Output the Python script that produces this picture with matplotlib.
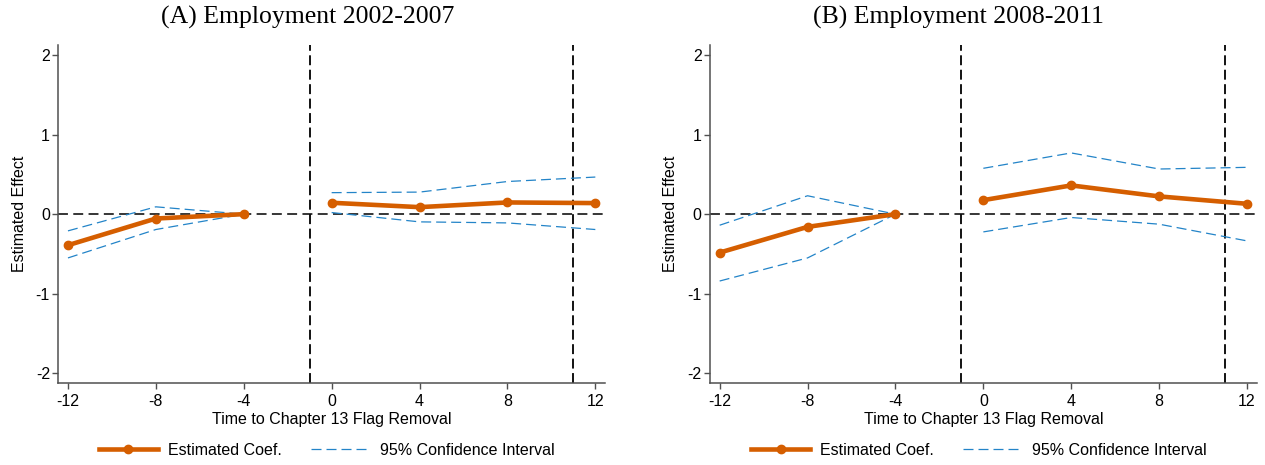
import numpy as np
import matplotlib
matplotlib.use("Agg")
import matplotlib.pyplot as plt
from matplotlib.lines import Line2D

plt.rcParams['font.family'] = ['Liberation Sans', 'DejaVu Sans']
plt.rcParams['axes.unicode_minus'] = False

# event time
pre_t = [-12, -8, -4]
post_t = [0, 4, 8, 12]

# (A) Employment 2002-2007
a_coef_pre = [-0.39, -0.055, 0.0]
a_coef_post = [0.143, 0.088, 0.147, 0.139]
a_hi_pre = [-0.21, 0.092, 0.0]
a_hi_post = [0.27, 0.277, 0.41, 0.466]
a_lo_pre = [-0.55, -0.193, 0.0]
a_lo_post = [0.02, -0.097, -0.11, -0.193]

# (B) Employment 2008-2011
b_coef_pre = [-0.483, -0.16, 0.0]
b_coef_post = [0.176, 0.361, 0.223, 0.13]
b_hi_pre = [-0.139, 0.231, 0.0]
b_hi_post = [0.576, 0.769, 0.567, 0.588]
b_lo_pre = [-0.84, -0.55, 0.0]
b_lo_post = [-0.223, -0.042, -0.126, -0.336]

titles = ['(A) Employment 2002-2007', '(B) Employment 2008-2011']
xticks = [-12, -8, -4, 0, 4, 8, 12]
yticks = [-2, -1, 0, 1, 2]
vlines = [-1, 11]

orange = '#d55e00'
blue = '#2384c8'
spine_c = '#505050'

W, H = 1265, 465
fig = plt.figure(figsize=(W / 100, H / 100), dpi=100)

panels = [
    (a_coef_pre, a_coef_post, a_hi_pre, a_hi_post, a_lo_pre, a_lo_post),
    (b_coef_pre, b_coef_post, b_hi_pre, b_hi_post, b_lo_pre, b_lo_post),
]
ax_left = [58.3, 710]
title_x = [308, 958]
leg_x = [326.7, 978.8]

for i, (cpre, cpost, hpre, hpost, lpre, lpost) in enumerate(panels):
    ax = fig.add_axes([ax_left[i] / W, 1 - 383.3 / H, 546.7 / W, 338.3 / H])

    ax.axhline(0, color='black', lw=1.1, dashes=(6.5, 3.5), zorder=1)
    for v in vlines:
        ax.axvline(v, color='black', lw=1.3, dashes=(5.5, 2.5), zorder=1)

    for seg_t, hi, lo in [(pre_t, hpre, lpre), (post_t, hpost, lpost)]:
        ax.plot(seg_t, hi, color=blue, lw=0.9, dashes=(8, 4), zorder=2)
        ax.plot(seg_t, lo, color=blue, lw=0.9, dashes=(8, 4), zorder=2)
    for seg_t, c in [(pre_t, cpre), (post_t, cpost)]:
        ax.plot(seg_t, c, color=orange, lw=3.3, marker='o', ms=6, zorder=3)

    ax.set_xlim(-12.44, 12.44)
    ax.set_ylim(-2.125, 2.125)
    ax.set_xticks(xticks)
    ax.set_yticks(yticks)
    ax.set_xticklabels([str(t) for t in xticks])
    ax.set_yticklabels([str(t) for t in yticks])

    for s in ['top', 'right']:
        ax.spines[s].set_visible(False)
    for s in ['left', 'bottom']:
        ax.spines[s].set_color(spine_c)
        ax.spines[s].set_linewidth(1.1)
    ax.tick_params(axis='both', colors=spine_c, labelcolor='black',
                   labelsize=11.5, length=4, width=1.0)
    ax.tick_params(axis='x', pad=4)
    ax.tick_params(axis='y', pad=2)

    ax.set_xlabel('Time to Chapter 13 Flag Removal', fontsize=11.5, labelpad=2)
    ax.set_ylabel('Estimated Effect', fontsize=11.5)
    ax.yaxis.set_label_coords(-0.058, 0.5)

    fig.text(title_x[i] / W, 1 - 17 / H, titles[i], ha='center', va='center',
             fontsize=18.5, family='Liberation Serif')

    handles = [
        Line2D([], [], color=orange, lw=3.3, marker='o', ms=6),
        Line2D([], [], color=blue, lw=0.9, dashes=(8, 4)),
    ]
    ax.legend(handles, ['Estimated Coef.', '95% Confidence Interval'],
              ncol=2, loc='center', frameon=False, fontsize=11.5,
              handlelength=3.7, handletextpad=0.63, columnspacing=1.8,
              bbox_to_anchor=(leg_x[i] / W, 1 - 450 / H),
              bbox_transform=fig.transFigure)

fig.savefig('out.png', dpi=100)
